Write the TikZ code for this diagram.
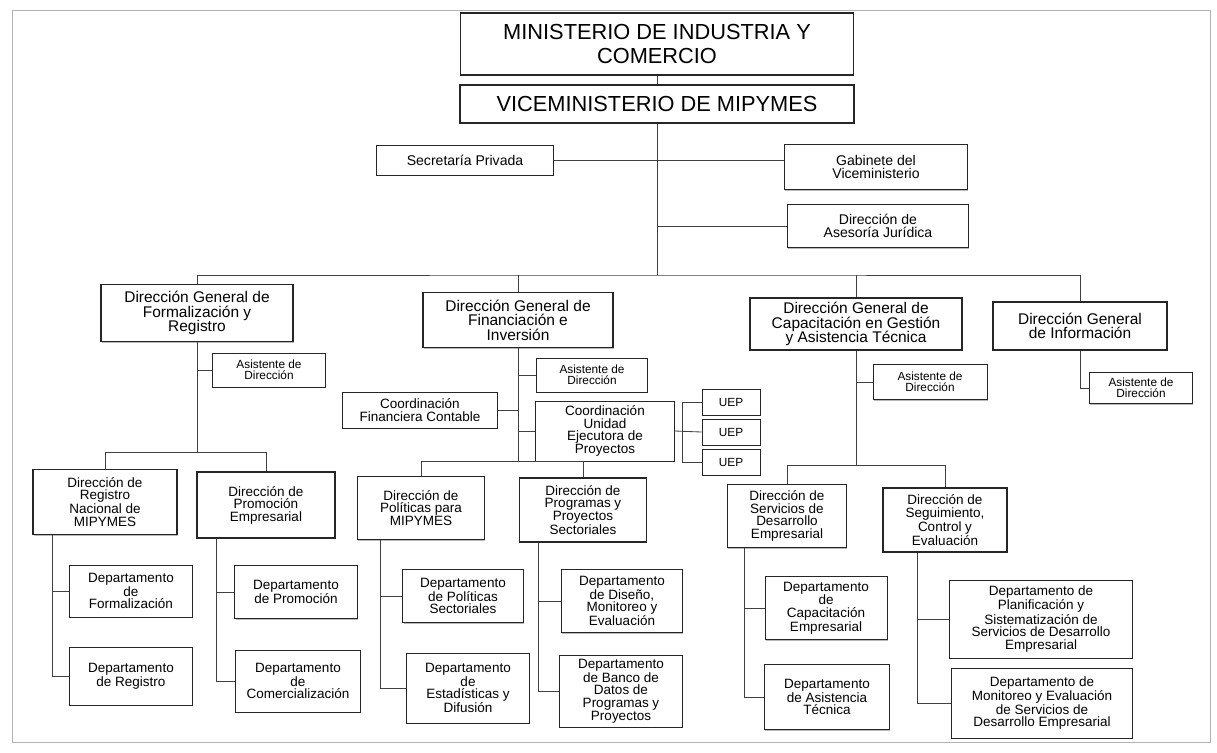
\documentclass[tikz,border=0pt]{standalone}
\usepackage{fontspec}
\setmainfont{Liberation Sans}
\usetikzlibrary{shadows}

\begin{document}
\begin{tikzpicture}[x=0.025cm,y=-0.025cm,
    caja/.style={draw=black!85,fill=white,line width=0.7pt,align=center,inner sep=1pt,
      drop shadow={shadow xshift=0.5pt,shadow yshift=-0.8pt,opacity=0.55}},
    cabeza/.style={caja,line width=1pt,font=\fontsize{15.5}{16.4}\selectfont},
    mayor/.style={caja,line width=0.9pt,font=\fontsize{11}{10.4}\selectfont},
    staff/.style={caja,font=\fontsize{10}{9.6}\selectfont},
    direc/.style={caja,line width=0.9pt,font=\fontsize{9.6}{8.9}\selectfont},
    menor/.style={caja,font=\fontsize{9.6}{8.9}\selectfont},
    asis/.style={caja,font=\fontsize{8.4}{7.6}\selectfont},
    linea/.style={draw=black!75,line width=0.6pt}]
  \useasboundingbox (0,0) rectangle (1217,752);
  % borde de la hoja
  \draw[black!30,line width=0.6pt] (12,10) rectangle (1210,742);

  % cabeza
  \node[cabeza,minimum width=9.825cm,minimum height=1.55cm] (mic) at (657,44)
       {MINISTERIO DE INDUSTRIA Y\\COMERCIO};
  \node[cabeza,minimum width=9.85cm,minimum height=0.95cm] (vmp) at (657,104)
       {VICEMINISTERIO DE MIPYMES};
  \node[staff,minimum width=4.425cm,minimum height=0.75cm] (sec) at (465,160)
       {Secretaría Privada};
  \node[staff,minimum width=4.575cm,minimum height=1.125cm] (gab) at (876,167)
       {Gabinete del\\Viceministerio};
  \node[staff,minimum width=4.525cm,minimum height=1.075cm] (ase) at (878,226)
       {Dirección de\\Asesoría Jurídica};

  % direcciones generales
  \node[mayor,minimum width=4.8cm,minimum height=1.425cm] (dgf) at (197,313)
       {Dirección General de\\Formalización y\\Registro};
  \node[mayor,minimum width=4.75cm,minimum height=1.375cm] (dgfi) at (518,320)
       {Dirección General de\\Financiación e\\Inversión};
  \node[mayor,minimum width=5.3cm,minimum height=1.3cm] (dgc) at (856,324)
       {Dirección General de\\Capacitación en Gestión\\y Asistencia Técnica};
  \node[mayor,minimum width=4.35cm,minimum height=1.2cm] (dgi) at (1080,326)
       {Dirección General\\de Información};

  % asistentes y coordinaciones
  \node[asis,minimum width=2.8cm,minimum height=0.85cm] (asa) at (269,370) {Asistente de\\Dirección};
  \node[asis,minimum width=2.775cm,minimum height=0.85cm] (asb) at (592,375) {Asistente de\\Dirección};
  \node[asis,minimum width=2.85cm,minimum height=0.875cm] (asc) at (930,382) {Asistente de\\Dirección};
  \node[asis,minimum width=2.575cm,minimum height=0.775cm] (asd) at (1141,388) {Asistente de\\Dirección};
  \node[menor,minimum width=3.875cm,minimum height=0.9cm] (cfc) at (420,410)
       {Coordinación\\Financiera Contable};
  \node[menor,minimum width=3.45cm,minimum height=1.5cm] (cuep) at (605,431)
       {Coordinación\\Unidad\\Ejecutora de\\Proyectos};
  \node[asis,minimum width=1.45cm,minimum height=0.65cm] (uepa) at (731,402) {UEP};
  \node[asis,minimum width=1.45cm,minimum height=0.65cm] (uepb) at (731,432) {UEP};
  \node[asis,minimum width=1.45cm,minimum height=0.65cm] (uepc) at (731,462) {UEP};

  % direcciones
  \node[direc,minimum width=3.6cm,minimum height=1.625cm] (drn) at (105,502)
       {Dirección de\\Registro\\Nacional de\\MIPYMES};
  \node[direc,minimum width=3.45cm,minimum height=1.65cm] (dpe) at (266,505)
       {Dirección de\\Promoción\\Empresarial};
  \node[direc,minimum width=3.175cm,minimum height=1.575cm] (dpol) at (421,508)
       {Dirección de\\Políticas para\\MIPYMES};
  \node[direc,minimum width=3.175cm,minimum height=1.6cm] (dpps) at (583,510)
       {Dirección de\\Programas y\\Proyectos\\Sectoriales};
  \node[direc,minimum width=2.975cm,minimum height=1.575cm] (dsde) at (787,516)
       {Dirección de\\Servicios de\\Desarrollo\\Empresarial};
  \node[direc,minimum width=3.1cm,minimum height=1.6cm] (dsce) at (945,520)
       {Dirección de\\Seguimiento,\\Control y\\Evaluación};

  % departamentos
  \node[menor,minimum width=3.075cm,minimum height=1.3cm] (dfor) at (131,591)
       {Departamento\\de\\Formalización};
  \node[menor,minimum width=3.075cm,minimum height=1.45cm] (dreg) at (131,676)
       {Departamento\\de Registro};
  \node[menor,minimum width=3.05cm,minimum height=1.325cm] (dpro) at (296,592)
       {Departamento\\de Promoción};
  \node[menor,minimum width=3.1cm,minimum height=1.55cm] (dcom) at (298,681)
       {Departamento\\de\\Comercialización};
  \node[menor,minimum width=3cm,minimum height=1.325cm] (dpse) at (463,596)
       {Departamento\\de Políticas\\Sectoriales};
  \node[menor,minimum width=3.075cm,minimum height=1.75cm] (dest) at (468,688)
       {Departamento\\de\\Estadísticas y\\Difusión};
  \node[menor,minimum width=3.025cm,minimum height=1.575cm] (ddis) at (622,601)
       {Departamento\\de Diseño,\\Monitoreo y\\Evaluación};
  \node[menor,minimum width=3.075cm,minimum height=1.8cm] (dban) at (621,691)
       {Departamento\\de Banco de\\Datos de\\Programas y\\Proyectos};
  \node[menor,minimum width=3.05cm,minimum height=1.575cm] (dcap) at (826,608)
       {Departamento\\de\\Capacitación\\Empresarial};
  \node[menor,minimum width=3.125cm,minimum height=1.625cm] (dat) at (827,697)
       {Departamento\\de Asistencia\\Técnica};
  \node[menor,minimum width=4.575cm,minimum height=1.95cm] (dpla) at (1041,619)
       {Departamento de\\Planificación y\\Sistematización de\\Servicios de Desarrollo\\Empresarial};
  \node[menor,minimum width=4.5cm,minimum height=1.75cm] (dmon) at (1042,703)
       {Departamento de\\Monitoreo y Evaluación\\de Servicios de\\Desarrollo Empresarial};

  % lineas de mando
  \coordinate (bus) at (657,275);
  \draw[linea] (mic) -- (vmp);
  \draw[linea] (vmp) -- (bus);
  \draw[linea] (sec.east) -- (sec.east -| gab.west);
  \draw[linea] (vmp.south |- ase.west) -- (ase.west);
  \draw[linea] (dgf.north) |- (bus) -| (dgi.north);
  \draw[linea] (dgfi.north) -- (dgfi.north |- bus);
  \draw[linea] (dgc.north) -- (dgc.north |- bus);

  \coordinate (bf) at (197,452);
  \draw[linea] (dgf) -- (bf);
  \draw[linea] (dgf.south |- asa.west) -- (asa.west);
  \draw[linea] (drn.north) |- (bf) -| (dpe.north);

  \coordinate (bfi) at (518,461);
  \draw[linea] (dgfi) -- (bfi);
  \draw[linea] (dgfi.south |- asb.west) -- (asb.west);
  \draw[linea] (cfc.east) -- (cfc.east -| dgfi.south);
  \draw[linea] (dgfi.south |- cuep.west) -- (cuep.west);
  \draw[linea] (dpol.north) |- (bfi) -| (dpps.north);
  \draw[linea] (cuep.east) -- (uepb.west);
  \draw[linea] (uepa.west) -| ([xshift=-0.475cm]uepc.west) -- (uepc.west);

  \coordinate (bc) at (856,465);
  \draw[linea] (dgc) -- (bc);
  \draw[linea] (dgc.south |- asc.west) -- (asc.west);
  \draw[linea] (dsde.north) |- (bc) -| (dsce.north);
  \draw[linea] (dgi.south) |- (asd.west);

  \draw[linea] ([xshift=0.5cm]drn.south west) |- (dfor.west);
  \draw[linea] ([xshift=0.5cm]drn.south west) |- (dreg.west);
  \draw[linea] ([xshift=0.5cm]dpe.south west) |- (dpro.west);
  \draw[linea] ([xshift=0.5cm]dpe.south west) |- (dcom.west);
  \draw[linea] ([xshift=0.6cm]dpol.south west) |- (dpse.west);
  \draw[linea] ([xshift=0.6cm]dpol.south west) |- (dest.west);
  \draw[linea] ([xshift=0.5cm]dpps.south west) |- (ddis.west);
  \draw[linea] ([xshift=0.5cm]dpps.south west) |- (dban.west);
  \draw[linea] ([xshift=0.44cm]dsde.south west) |- (dcap.west);
  \draw[linea] ([xshift=0.44cm]dsde.south west) |- (dat.west);
  \draw[linea] ([xshift=0.875cm]dsce.south west) |- (dpla.west);
  \draw[linea] ([xshift=0.875cm]dsce.south west) |- (dmon.west);
\end{tikzpicture}
\end{document}
